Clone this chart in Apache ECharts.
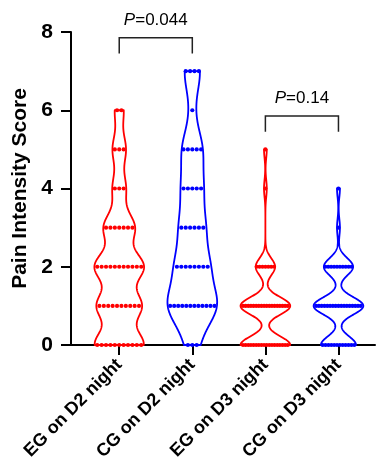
<!DOCTYPE html>
<html><head><meta charset="utf-8">
<script src="https://cdn.jsdelivr.net/npm/echarts@6/dist/echarts.min.js"></script>
<style>html,body{margin:0;padding:0;background:#fff}#c{width:382px;height:462px}</style>
</head><body><div id="c"></div>
<script>
// ---- data ----
const categories = ['EG on D2 night', 'CG on D2 night', 'EG on D3 night', 'CG on D3 night'];
const scoreLevels = [0, 1, 2, 3, 4, 5, 6, 7];
const egD2Counts = [11, 10, 11, 7, 3, 3, 2, 0];
const cgD2Counts = [3, 12, 8, 6, 5, 5, 1, 4];
const egD3Counts = [18, 18, 7, 0, 1, 1, 0, 0];
const cgD3Counts = [12, 17, 10, 1, 1, 0, 0, 0];
const comparisons = [[0, 1], [2, 3]];
const pValues = ['0.044', '0.14'];
const yTicks = [0, 2, 4, 6, 8];

// ---- style ----
const FONT = '"Liberation Sans", Arial, Helvetica, sans-serif';
const groupCounts = [egD2Counts, cgD2Counts, egD3Counts, cgD3Counts];
const groupColors = ['#ff0000', '#0000ff', '#ff0000', '#0000ff'];
const bandwidths = [0.36, 0.5, 0.22, 0.22];
const MAX_HALF = 0.34;   // x-axis units
const DOT_R = 2.1;
const DOT_GAP = 4.4;

function levelsOf(g) { return scoreLevels.filter((v, i) => groupCounts[g][i] > 0); }
function range(g) { const l = levelsOf(g); return [Math.min(...l), Math.max(...l)]; }
function density(g, y) {
  let s = 0; const h = bandwidths[g];
  groupCounts[g].forEach((n, i) => { const z = (y - scoreLevels[i]) / h; s += n * Math.exp(-0.5 * z * z); });
  return s;
}
function maxDensity(g) {
  const [lo, hi] = range(g); let m = 0;
  for (let k = 0; k <= 400; k++) { m = Math.max(m, density(g, lo + (hi - lo) * k / 400)); }
  return m;
}

function renderViolin(params, api) {
  const g = api.value(0);
  const [lo, hi] = range(g); const md = maxDensity(g);
  const W = api.size([MAX_HALF, 0])[0];
  const left = [], right = [];
  const steps = 400;
  for (let k = 0; k <= steps; k++) {
    const y = lo + (hi - lo) * k / steps;
    const p = api.coord([g, y]);
    const hw = density(g, y) / md * W;
    right.push([p[0] + hw, p[1]]); left.push([p[0] - hw, p[1]]);
  }
  return {
    type: 'polygon', shape: { points: right.concat(left.reverse()) },
    style: { fill: 'none', stroke: groupColors[g], lineWidth: 1.8, lineJoin: 'round' }
  };
}

function renderDots(params, api) {
  const g = api.value(0);
  const md = maxDensity(g);
  const W = api.size([MAX_HALF, 0])[0];
  const children = [];
  groupCounts[g].forEach((n, i) => {
    if (!n) return;
    const v = scoreLevels[i];
    const p = api.coord([g, v]);
    const hw = density(g, v) / md * W;
    const gap = n > 1 ? Math.min(DOT_GAP, 2 * hw * 0.9 / (n - 1)) : 0;
    for (let j = 0; j < n; j++) {
      children.push({ type: 'circle', shape: { cx: p[0] + (j - (n - 1) / 2) * gap, cy: p[1], r: DOT_R },
        style: { fill: groupColors[g] } });
    }
  });
  return { type: 'group', children };
}

const bracketData = comparisons.map((c, k) => {
  const top = Math.max(range(c[0])[1], range(c[1])[1]) + 0.85;
  return [c[0], c[1], top, k];
});

function renderBracket(params, api) {
  const a = api.value(0), b = api.value(1), top = api.value(2), k = api.value(3);
  const p1 = api.coord([a, top - 0.4]), p2 = api.coord([a, top]);
  const p3 = api.coord([b, top]), p4 = api.coord([b, top - 0.4]);
  return {
    type: 'group', children: [
      { type: 'polyline', shape: { points: [p1, p2, p3, p4] }, style: { fill: 'none', stroke: '#222', lineWidth: 1.5 } },
      { type: 'text', style: {
          text: '{i|P}=' + pValues[k], x: (p2[0] + p3[0]) / 2, y: p2[1] - 9,
          align: 'center', verticalAlign: 'bottom', fontSize: 17, fontFamily: FONT, fill: '#000',
          rich: { i: { fontStyle: 'italic', fontSize: 17, fontFamily: FONT, fill: '#000' } } } }
    ]
  };
}

const chart = echarts.init(document.getElementById('c'), null, { renderer: 'canvas' });
const idx = categories.map((c, i) => i);
chart.setOption({
  animation: false,
  backgroundColor: '#fff',
  grid: { left: 71, right: 7, top: 32, bottom: 117, containLabel: false, outerBoundsMode: 'none' },
  xAxis: {
    type: 'value', min: -0.66, max: 3.5, splitLine: { show: false },
    axisLine: { onZero: false, lineStyle: { color: '#000', width: 2 } },
    axisTick: { customValues: idx, length: 10, lineStyle: { color: '#000', width: 2 } },
    axisLabel: { customValues: idx, formatter: v => categories[Math.round(v)], rotate: 45, margin: 17,
      fontSize: 18, fontWeight: 'bold', color: '#000', fontFamily: FONT }
  },
  yAxis: {
    type: 'value', min: yTicks[0], max: yTicks[yTicks.length - 1], interval: yTicks[1] - yTicks[0],
    splitLine: { show: false },
    name: 'Pain Intensity Score', nameLocation: 'middle', nameGap: 40,
    nameTextStyle: { fontSize: 21, fontWeight: 'bold', color: '#000', fontFamily: FONT },
    axisLine: { show: true, onZero: false, lineStyle: { color: '#000', width: 2 } },
    axisTick: { show: true, length: 10, lineStyle: { color: '#000', width: 2 } },
    axisLabel: { fontSize: 21, fontWeight: 'bold', color: '#000', fontFamily: FONT, margin: 18 }
  },
  series: [
    { type: 'custom', renderItem: renderViolin, data: idx.map(i => [i, 0]), z: 3, silent: true },
    { type: 'custom', renderItem: renderDots, data: idx.map(i => [i, 0]), z: 4, silent: true },
    { type: 'custom', renderItem: renderBracket, data: bracketData, z: 5, silent: true }
  ]
});
</script></body></html>
